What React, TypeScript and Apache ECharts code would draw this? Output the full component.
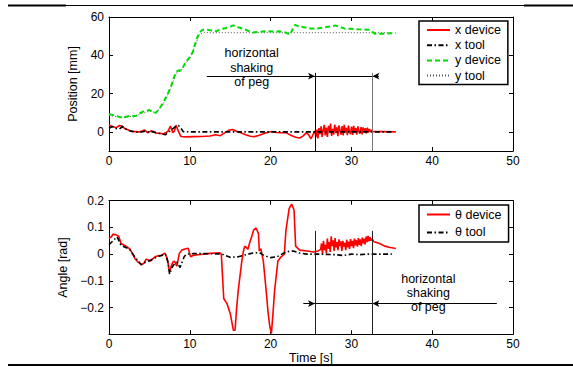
import React, { useEffect, useRef } from "react";
import * as echarts from "echarts";

const xTicks = [0, 10, 20, 30, 40, 50];
const posTicks = [0, 20, 40, 60];
const angTicks = [-0.2, -0.1, 0, 0.1, 0.2];

const xDevice: number[][] = [
  [0, 3.6], [0.4, 2.8], [0.9, 2.2], [1.3, 3.3], [1.6, 3.0], [2.0, 1.6], [2.4, 1.0], [2.8, 0.2], [3.3, 0.1], [3.8, 0],
  [4.2, 0.6], [4.4, 1.0], [4.8, -0.5], [5.2, 0.5], [5.5, 0.2], [5.8, -0.6], [6.3, -0.8], [6.7, -1.0], [7.0, -0.5],
  [7.3, 0.3], [7.6, 3.0], [7.9, -0.5], [8.1, 0.5], [8.3, 3.4], [8.6, 0.2], [8.9, -2.4], [9.5, -2.6], [10.5, -2.5],
  [11.5, -2.4], [12.5, -2.2], [13.2, -1.5], [13.8, -2.0], [14.3, -0.5], [14.8, 0.8], [15.3, 1.2], [15.8, 0.3],
  [16.3, -0.5], [16.9, -1.5], [17.5, -2.3], [18.0, -2.5], [18.6, -1.8], [19.2, -0.8], [19.7, -0.2], [20.2, 0.2],
  [20.7, -0.3], [21.3, -0.5], [21.9, -0.4], [22.5, -1.8], [23.1, -2.8], [23.6, -3.2], [24.0, -2.2], [24.4, -0.5],
  [24.7, -1.5], [25.0, -3.6], [25.3, -1.0], [25.5, 0.5],
  [25.6, -2.8], [25.73, 1.2], [25.86, -3.4], [25.99, 2.0], [26.12, -1.2], [26.25, 2.9], [26.38, -2.6], [26.51, 0.8],
  [26.64, 3.7], [26.77, -1.9], [26.9, 2.2], [27.03, -2.7], [27.16, 3.1], [27.29, 0.2], [27.42, 4.3], [27.55, -2.1],
  [27.68, 1.6], [27.81, -1.4], [27.94, 3.8], [28.07, -0.6], [28.2, 2.4], [28.33, -2.2], [28.46, 3.4], [28.59, 0.5],
  [28.72, -1.5], [28.85, 3.0], [28.98, -1.8], [29.11, 3.7], [29.24, -0.4], [29.37, 2.1], [29.5, -1.7], [29.63, 3.3],
  [29.76, 0.3], [29.89, -1.2], [30.02, 2.8], [30.15, -1.6], [30.28, 3.1], [30.41, -0.3], [30.54, 2.0], [30.67, -1.5],
  [30.8, 2.9], [30.93, 0.0], [31.06, -0.9], [31.19, 2.5], [31.32, -1.3], [31.45, 2.3], [31.58, -0.2], [31.71, 1.9],
  [31.84, -0.8], [31.97, 2.2], [32.1, -0.3], [32.23, 1.5], [32.36, -0.1], [32.49, 1.0], [32.62, 0.2],
  [33.2, 0.1], [34.0, 0.1], [35.5, 0],
];

const xTool: number[][] = [
  [0, 1.9], [0.4, 2.8], [0.8, 1.8], [1.3, 1.5], [1.7, 2.8], [2.1, 1.5], [2.6, 0.5], [3.0, 0.2], [3.8, -0.3],
  [4.5, 0.4], [5.0, -0.2], [5.4, 0.1], [6.0, -0.6], [6.5, -1.0], [7.0, -1.5], [7.3, -0.3], [7.6, 0.5], [8.0, 2.0],
  [8.3, 3.0], [8.6, 3.3], [8.9, 1.9], [9.2, 0.1], [10, 0], [35, 0],
];

const yDevice: number[][] = [
  [0, 9.2], [0.5, 8.8], [0.9, 8.3], [1.3, 7.8], [1.7, 7.4], [2.1, 7.9], [2.6, 8.3], [3.0, 8.2], [3.4, 8.4],
  [3.8, 9.6], [4.2, 10.6], [4.6, 10.9], [5.0, 11.4], [5.4, 10.5], [5.8, 9.9], [6.1, 11.5], [6.4, 13.2], [6.8, 16],
  [7.1, 18.4], [7.4, 21], [7.7, 24], [8.0, 28], [8.3, 31.3], [8.6, 32], [8.9, 32.2], [9.2, 34], [9.5, 36.5],
  [9.8, 38], [10.1, 39.5], [10.4, 42], [10.6, 45.2], [10.9, 49], [11.2, 52], [11.6, 53.3], [12.1, 53.4],
  [12.7, 53], [13.3, 52.5], [13.7, 53.5], [14.1, 53.9], [14.7, 54.5], [15.4, 55.6], [16.0, 54.6], [16.6, 53.9],
  [17.2, 52.8], [17.8, 51.9], [18.6, 52.3], [19.5, 52.6], [20.3, 52.4], [21.1, 52.5], [21.8, 52.0], [22.4, 50.8],
  [23.0, 55.9], [23.6, 55.0], [24.1, 54.7], [24.9, 54.0], [25.7, 53.9], [26.5, 54.5], [27.3, 55.0], [28.0, 55.6],
  [28.6, 54.8], [29.2, 53.9], [30.0, 53.8], [30.8, 53.6], [31.5, 53.5], [32.1, 53.4], [32.5, 52.5], [32.9, 51.3],
  [33.5, 51.2], [34.1, 51.3], [34.8, 51.5], [35.5, 51.6],
];

const yTool: number[][] = [
  [0, 8.5], [1, 8], [2, 7.6], [3, 8.2], [4, 9.5], [5, 10.8], [5.8, 10], [6.4, 12.5], [7, 17], [7.7, 23.5],
  [8.3, 30.5], [8.9, 32], [9.5, 36], [10.1, 39], [10.6, 44.5], [11.2, 51], [11.8, 51.8], [35, 51.8],
];

const thetaDevice: number[][] = [
  [0, 0.059], [0.3, 0.065], [0.5, 0.075], [0.9, 0.072], [1.2, 0.067], [1.5, 0.04], [2.1, 0.03], [2.6, 0.019],
  [3.2, -0.016], [3.6, -0.03], [4.0, -0.039], [4.3, -0.035], [4.6, -0.019], [4.9, -0.022], [5.1, -0.026],
  [5.4, -0.018], [5.7, -0.01], [6.1, -0.006], [6.5, -0.004], [6.9, 0.004], [7.2, -0.016], [7.4, -0.05],
  [7.5, -0.066], [7.7, -0.045], [7.9, -0.03], [8.1, -0.026], [8.4, -0.045], [8.7, 0.002], [9.0, 0.015],
  [9.4, 0.019], [9.8, 0.022], [10.1, -0.01], [10.4, -0.005], [11, -0.002], [11.7, 0], [12.5, 0.003],
  [13.7, 0.005], [13.9, 0.0], [14.2, -0.166], [14.6, -0.185], [15.0, -0.222], [15.4, -0.285], [15.6, -0.285],
  [15.8, -0.2], [16.0, -0.135], [16.4, -0.035], [16.6, 0.006], [16.8, 0.03], [17.0, 0.025], [17.2, 0.018],
  [17.4, 0.042], [17.6, 0.06], [17.9, 0.09], [18.2, 0.098], [18.5, 0.077], [18.6, 0.012], [18.8, 0.02],
  [19.1, -0.026], [19.4, -0.12], [19.7, -0.222], [19.9, -0.27], [20.1, -0.297], [20.3, -0.22], [20.5, -0.135],
  [20.9, -0.026], [21.3, -0.01], [21.7, 0.0], [21.9, 0.09], [22.3, 0.171], [22.6, 0.187], [22.9, 0.165],
  [23.1, 0.03], [23.6, 0.015], [24.5, 0.012], [25.3, 0.008], [25.9, 0.012], [26.2, 0.018],
  [26.3, 0.04], [26.42, 0.0], [26.54, 0.05], [26.66, 0.015], [26.78, 0.035], [26.9, 0.003], [27.02, 0.058],
  [27.14, 0.02], [27.26, 0.045], [27.38, 0.008], [27.5, 0.067], [27.62, 0.03], [27.74, 0.052], [27.86, 0.012],
  [27.98, 0.06], [28.1, 0.025], [28.22, 0.045], [28.34, 0.015], [28.46, 0.055], [28.58, 0.03], [28.7, 0.048],
  [28.82, 0.012], [28.94, 0.05], [29.06, 0.028], [29.18, 0.042], [29.3, 0.015], [29.42, 0.054], [29.54, 0.025],
  [29.66, 0.047], [29.78, 0.02], [29.9, 0.056], [30.02, 0.03], [30.14, 0.05], [30.26, 0.022], [30.38, 0.058],
  [30.5, 0.033], [30.62, 0.052], [30.74, 0.028], [30.86, 0.06], [30.98, 0.035], [31.1, 0.055], [31.22, 0.03],
  [31.34, 0.062], [31.46, 0.04], [31.58, 0.058], [31.7, 0.036], [31.82, 0.066], [31.94, 0.045], [32.06, 0.068],
  [32.18, 0.048], [32.3, 0.063], [32.42, 0.05], [32.54, 0.058],
  [32.8, 0.046], [33.5, 0.04], [34.1, 0.03], [34.8, 0.025], [35.5, 0.021],
];

const thetaTool: number[][] = [
  [0, 0.035], [0.5, 0.05], [1.0, 0.065], [1.5, 0.032], [2.5, 0.02], [3.2, -0.01], [4.0, -0.04], [4.5, -0.03],
  [5.0, -0.025], [6.0, -0.01], [7.0, 0], [7.3, -0.03], [7.5, -0.075], [7.8, -0.05], [8.0, -0.04], [8.4, -0.03],
  [8.8, -0.05], [9.3, -0.01], [9.6, 0], [10.5, 0.002], [12, 0.002], [14, 0], [15, -0.012], [16, -0.01],
  [16.8, -0.003], [17.8, 0.004], [18.6, 0.006], [19.2, -0.005], [20, -0.013], [20.8, -0.01], [21.5, 0.002],
  [22.2, 0.01], [22.8, 0.012], [23.6, 0.004], [24.5, 0], [26, 0], [28, -0.002], [29, -0.005], [30, 0],
  [31, -0.002], [32, 0], [35, 0],
];

// annotation positions (time in s, value in axis units)
const shakeStart = 25.5;
const shakeEnd = 32.6;
const topArrowY = 29.1;
const topArrowFrom = 12.1;
const topArrowTo = 33.4;
const topVTop = 30.8;
const botArrowY = -0.185;
const botArrowFrom = 24.05;
const botArrowTo = 48.0;
const botVTop = 0.087;

const FONT = "'Liberation Sans', Arial, Helvetica, sans-serif";
const RED = "#ff0000";
const GREEN = "#00dd00";

function fmtNum(v: number) {
  const s = String(Math.round(v * 1000) / 1000);
  return s.replace("-", "\u2212");
}

export default function App() {
  const ref = useRef<HTMLDivElement>(null);
  useEffect(() => {
    if (!ref.current) return;
    const chart = echarts.init(ref.current, null, { renderer: "svg" });

    const axisLine = { show: true, onZero: false, lineStyle: { color: "#000", width: 1 } };
    const tick = { show: true, inside: true, length: 4, lineStyle: { color: "#000", width: 1 } };
    const label = { color: "#000", fontSize: 12, fontFamily: FONT };

    const xAxisBase = (gridIndex: number, position: string, showLabel: boolean, extra: any = {}) => ({
      type: "value",
      gridIndex,
      position,
      min: 0,
      max: 50,
      interval: 10,
      axisLine,
      axisTick: tick,
      splitLine: { show: false },
      axisLabel: { ...label, show: showLabel, margin: 4, formatter: (v: number) => fmtNum(v) },
      ...extra,
    });

    const arrowLine = (color = "#000") => ({ color, width: 1, type: "solid" });
    const legendBase = {
      left: 419,
      orient: "vertical",
      itemWidth: 23,
      itemHeight: 10,
      borderColor: "#000",
      borderWidth: 1.5,
      borderRadius: 0,
      backgroundColor: "#fff",
      textStyle: { color: "#000", fontSize: 12.5, fontFamily: FONT },
      itemStyle: { color: "transparent", borderColor: "transparent", borderWidth: 0, opacity: 0 },
      selectedMode: false,
    };

    const option: any = {
      animation: false,
      backgroundColor: "#fff",
      textStyle: { fontFamily: FONT },
      grid: [
        { left: 109, top: 17, width: 404, height: 134 },
        { left: 109, top: 200.7, width: 404, height: 133.6 },
      ],
      xAxis: [
        xAxisBase(0, "bottom", true),
        xAxisBase(0, "top", false),
        xAxisBase(1, "bottom", true, {
          name: "Time [s]",
          nameLocation: "middle",
          nameGap: 16,
          nameTextStyle: { color: "#000", fontSize: 12.5, fontFamily: FONT },
        }),
        xAxisBase(1, "top", false),
      ],
      yAxis: [
        {
          type: "value",
          gridIndex: 0,
          position: "left",
          min: -10,
          max: 60,
          axisLine,
          axisTick: { ...tick, customValues: posTicks },
          splitLine: { show: false },
          axisLabel: { ...label, margin: 5, customValues: posTicks, formatter: (v: number) => fmtNum(v) },
          name: "Position [mm]",
          nameLocation: "middle",
          nameGap: 18,
          nameRotate: 90,
          nameTextStyle: { color: "#000", fontSize: 12.5, fontFamily: FONT },
        },
        {
          type: "value",
          gridIndex: 0,
          position: "right",
          min: -10,
          max: 60,
          axisLine,
          axisTick: { ...tick, customValues: posTicks },
          splitLine: { show: false },
          axisLabel: { show: false, customValues: posTicks },
        },
        {
          type: "value",
          gridIndex: 1,
          position: "left",
          min: -0.3,
          max: 0.2,
          axisLine,
          axisTick: { ...tick, customValues: angTicks },
          splitLine: { show: false },
          axisLabel: { ...label, margin: 5, customValues: angTicks, formatter: (v: number) => fmtNum(v) },
          name: "Angle [rad]",
          nameLocation: "middle",
          nameGap: 28.5,
          nameRotate: 90,
          nameTextStyle: { color: "#000", fontSize: 12.5, fontFamily: FONT },
        },
        {
          type: "value",
          gridIndex: 1,
          position: "right",
          min: -0.3,
          max: 0.2,
          axisLine,
          axisTick: { ...tick, customValues: angTicks },
          splitLine: { show: false },
          axisLabel: { show: false, customValues: angTicks },
        },
      ],
      legend: [
        {
          ...legendBase,
          top: 21,
          data: ["x device", "x tool", "y device", "y tool"],
          itemGap: 2.2,
          padding: [2.5, 7, 2.5, 7],
        },
        {
          ...legendBase,
          top: 205,
          data: ["\u03b8 device", "\u03b8 tool"],
          itemGap: 4.9,
          padding: [3, 7, 3, 7],
        },
      ],
      series: [
        {
          name: "y tool",
          type: "line",
          xAxisIndex: 0,
          yAxisIndex: 0,
          data: yTool,
          symbol: "none",
          lineStyle: { color: "#555", width: 1, type: [1, 2] },
          itemStyle: { color: "#555" },
        },
        {
          name: "y device",
          type: "line",
          xAxisIndex: 0,
          yAxisIndex: 0,
          data: yDevice,
          symbol: "none",
          lineStyle: { color: GREEN, width: 2, type: [5, 3] },
          itemStyle: { color: GREEN },
        },
        {
          name: "x device",
          type: "line",
          xAxisIndex: 0,
          yAxisIndex: 0,
          data: xDevice,
          symbol: "none",
          lineStyle: { color: RED, width: 1.6 },
          itemStyle: { color: RED },
          markLine: {
            silent: true,
            animation: false,
            symbolSize: [5, 7],
            label: { show: false },
            data: [
              [
                { coord: [topArrowFrom, topArrowY], symbol: "none", lineStyle: arrowLine() },
                { coord: [shakeStart, topArrowY], symbol: "arrow" },
              ],
              [
                { coord: [shakeStart, topArrowY], symbol: "none", lineStyle: arrowLine() },
                { coord: [shakeEnd, topArrowY], symbol: "none" },
              ],
              [
                { coord: [topArrowTo, topArrowY], symbol: "none", lineStyle: arrowLine() },
                { coord: [shakeEnd, topArrowY], symbol: "arrow" },
              ],
              [
                { coord: [shakeStart, topVTop], symbol: "none", lineStyle: arrowLine() },
                { coord: [shakeStart, -10], symbol: "none" },
              ],
              [
                { coord: [shakeEnd, topVTop], symbol: "none", lineStyle: arrowLine("#777") },
                { coord: [shakeEnd, -10], symbol: "none" },
              ],
            ],
          },
        },
        {
          name: "x tool",
          type: "line",
          xAxisIndex: 0,
          yAxisIndex: 0,
          data: xTool,
          symbol: "none",
          lineStyle: { color: "#000", width: 1.6, type: [5, 2.5, 1.5, 2.5] },
          itemStyle: { color: "#000" },
        },
        {
          name: "\u03b8 device",
          type: "line",
          xAxisIndex: 2,
          yAxisIndex: 2,
          data: thetaDevice,
          symbol: "none",
          lineStyle: { color: RED, width: 1.6 },
          itemStyle: { color: RED },
          markLine: {
            silent: true,
            animation: false,
            symbolSize: [5, 7],
            label: { show: false },
            data: [
              [
                { coord: [botArrowFrom, botArrowY], symbol: "none", lineStyle: arrowLine() },
                { coord: [shakeStart, botArrowY], symbol: "arrow" },
              ],
              [
                { coord: [shakeStart, botArrowY], symbol: "none", lineStyle: arrowLine() },
                { coord: [shakeEnd, botArrowY], symbol: "none" },
              ],
              [
                { coord: [botArrowTo, botArrowY], symbol: "none", lineStyle: arrowLine() },
                { coord: [shakeEnd, botArrowY], symbol: "arrow" },
              ],
              [
                { coord: [shakeStart, botVTop], symbol: "none", lineStyle: arrowLine("#222") },
                { coord: [shakeStart, -0.3], symbol: "none" },
              ],
              [
                { coord: [shakeEnd, botVTop], symbol: "none", lineStyle: arrowLine("#222") },
                { coord: [shakeEnd, -0.3], symbol: "none" },
              ],
            ],
          },
        },
        {
          name: "\u03b8 tool",
          type: "line",
          xAxisIndex: 2,
          yAxisIndex: 2,
          data: thetaTool,
          symbol: "none",
          lineStyle: { color: "#000", width: 1.6, type: [5, 2.5, 1.5, 2.5] },
          itemStyle: { color: "#000" },
        },
      ],
      graphic: [
        { type: "rect", shape: { x: 8, y: 4.5, width: 58, height: 2 }, style: { fill: "#000" }, silent: true },
        { type: "rect", shape: { x: 66, y: 5, width: 458, height: 1 }, style: { fill: "#000" }, silent: true },
        { type: "rect", shape: { x: 524, y: 4.5, width: 49, height: 2 }, style: { fill: "#000" }, silent: true },
        { type: "rect", shape: { x: 8, y: 364, width: 565, height: 2 }, style: { fill: "#000" }, silent: true },
        ...[
          ["horizontal", 251.7, 53],
          ["shaking", 251.7, 67.7],
          ["of peg", 251.7, 81.7],
          ["horizontal", 428.3, 279],
          ["shaking", 428.3, 293.3],
          ["of peg", 428.3, 307.3],
        ].map(([t, x, y]) => ({
          type: "text",
          x: x as number,
          y: y as number,
          silent: true,
          z: 50,
          style: {
            text: t as string,
            fill: "#000",
            font: `12.5px ${FONT}`,
            textAlign: "center",
            textVerticalAlign: "middle",
            align: "center",
            verticalAlign: "middle",
          },
        })),
      ],
    };

    chart.setOption(option);
    return () => chart.dispose();
  }, []);

  return (
    <div
      ref={ref}
      style={{ position: "fixed", left: 0, top: 0, width: 573, height: 367, background: "#fff" }}
    />
  );
}
